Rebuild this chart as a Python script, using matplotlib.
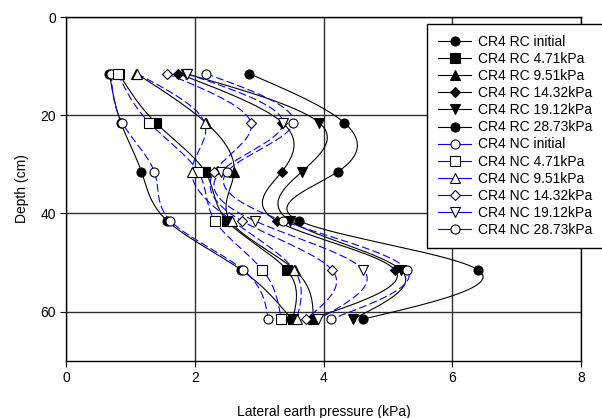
import numpy as np
import matplotlib
matplotlib.use("Agg")
import matplotlib.pyplot as plt
from matplotlib.lines import Line2D

plt.rcParams['font.family'] = ['Liberation Sans', 'DejaVu Sans']

# depth of the pressure cells (cm)
depth = [11.5, 21.5, 31.5, 41.5, 51.5, 61.5]

# lateral earth pressure (kPa), RC = black filled, NC = blue open
rc_initial = [0.67, 0.85, 1.17, 1.57, 2.72, 3.50]
rc_471 = [0.82, 1.39, 2.16, 2.50, 3.43, 3.52]
rc_951 = [1.09, 2.17, 2.61, 2.55, 3.55, 3.84]
rc_1432 = [1.74, 3.36, 3.35, 3.27, 5.11, 3.80]
rc_1912 = [1.86, 3.93, 3.66, 3.48, 5.20, 4.46]
rc_2873 = [2.84, 4.32, 4.22, 3.62, 6.40, 4.62]

nc_initial = [0.70, 0.87, 1.37, 1.62, 2.75, 3.14]
nc_471 = [0.80, 1.29, 2.05, 2.31, 3.05, 3.34]
nc_951 = [1.10, 2.15, 1.95, 2.58, 3.54, 3.58]
nc_1432 = [1.56, 2.87, 2.30, 2.73, 4.13, 3.73]
nc_1912 = [1.87, 3.37, 2.40, 2.93, 4.62, 3.92]
nc_2873 = [2.17, 3.53, 2.50, 3.37, 5.30, 4.12]

labels = ['CR4 RC initial', 'CR4 RC 4.71kPa', 'CR4 RC 9.51kPa', 'CR4 RC 14.32kPa',
          'CR4 RC 19.12kPa', 'CR4 RC 28.73kPa', 'CR4 NC initial', 'CR4 NC 4.71kPa',
          'CR4 NC 9.51kPa', 'CR4 NC 14.32kPa', 'CR4 NC 19.12kPa', 'CR4 NC 28.73kPa']
series = [rc_initial, rc_471, rc_951, rc_1432, rc_1912, rc_2873,
          nc_initial, nc_471, nc_951, nc_1432, nc_1912, nc_2873]
markers = ['o', 's', '^', 'D', 'v', 'o'] * 2


def natural_spline(t, v, tt):
    # natural cubic spline of v(t), evaluated at tt
    t = np.asarray(t, float)
    v = np.asarray(v, float)
    n = len(t)
    h = np.diff(t)
    a = np.zeros((n, n))
    b = np.zeros(n)
    a[0, 0] = a[-1, -1] = 1
    for i in range(1, n - 1):
        a[i, i - 1] = h[i - 1]
        a[i, i] = 2 * (h[i - 1] + h[i])
        a[i, i + 1] = h[i]
        b[i] = 6 * ((v[i + 1] - v[i]) / h[i] - (v[i] - v[i - 1]) / h[i - 1])
    m = np.linalg.solve(a, b)
    idx = np.clip(np.searchsorted(t, tt) - 1, 0, n - 2)
    dx = tt - t[idx]
    hi = h[idx]
    c0 = v[idx]
    c1 = (v[idx + 1] - v[idx]) / hi - hi * (2 * m[idx] + m[idx + 1]) / 6
    c2 = m[idx] / 2
    c3 = (m[idx + 1] - m[idx]) / (6 * hi)
    return c0 + c1 * dx + c2 * dx ** 2 + c3 * dx ** 3


fig = plt.figure(figsize=(6.02, 4.18), dpi=100)
ax = fig.add_axes([0.110, 0.137, 0.855, 0.822])

dd = np.linspace(depth[0], depth[-1], 300)
handles = []
for i, (vals, lab, mk) in enumerate(zip(series, labels, markers)):
    rc = i < 6
    col = 'black' if rc else '#0000ff'
    face = 'black' if rc else 'white'
    ms = 5.5 if mk == 'D' else 6.5
    curve = natural_spline(depth, vals, dd)
    if rc:
        ax.plot(curve, dd, color=col, lw=0.8, zorder=2)
    else:
        ax.plot(curve, dd, color=col, lw=0.8, dashes=(7, 3), zorder=2)
    ax.plot(vals, depth, linestyle='none', marker=mk, ms=ms, mfc=face,
            mec='black', mew=0.8, zorder=3)
    handles.append(Line2D([], [], color=col, lw=0.8, marker=mk, ms=ms,
                          mfc=face, mec='black', mew=0.8, label=lab))

ax.set_xlim(0, 8)
ax.set_ylim(70, 0)
ax.set_xticks([0, 2, 4, 6, 8])
ax.set_yticks([0, 20, 40, 60])
ax.grid(True, color='#303030', lw=1.0)
ax.set_axisbelow(True)
for s in ax.spines.values():
    s.set_linewidth(1.0)
ax.tick_params(direction='out', length=4, labelsize=10)
ax.set_xlabel('Lateral earth pressure (kPa)', fontsize=10, labelpad=14)
ax.set_ylabel('Depth (cm)', fontsize=10, labelpad=8)

leg = fig.legend(handles=handles, loc='upper left',
                 bbox_to_anchor=(427 / 602, 1 - 24 / 418), fontsize=10,
                 frameon=True, fancybox=False, edgecolor='black', framealpha=1,
                 handlelength=2.4, handletextpad=0.5, labelspacing=0.22,
                 borderpad=0.8, borderaxespad=0)
leg.get_frame().set_linewidth(1.0)

fig.savefig('out.png', dpi=100)
